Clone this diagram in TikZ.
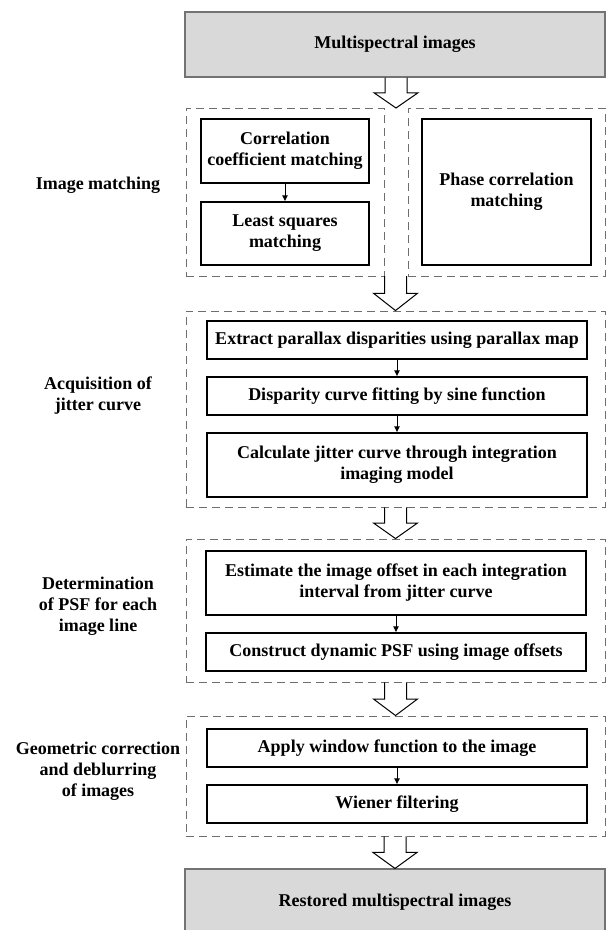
\documentclass[tikz,border=0pt]{standalone}
\usepackage{fontspec}
\setmainfont{Liberation Serif}
\usepackage{tikz}
\usetikzlibrary{arrows.meta,calc}
\definecolor{boxgray}{RGB}{217,217,217}
\definecolor{dashgray}{RGB}{110,110,110}
\tikzset{
  stepbox/.style={draw=black,line width=1.1pt,align=center,inner sep=0pt},
  endbox/.style={draw=gray!90!black,fill=boxgray,line width=1.1pt,align=center,inner sep=0pt},
  groupbox/.style={draw=dashgray,line width=0.9pt,dash pattern=on 8pt off 5pt,inner sep=0pt},
  sidelabel/.style={align=center,inner sep=0pt},
  smallarrow/.style={line width=1pt,-{Latex[length=6pt,width=6pt]}},
  fatarrowline/.style={line width=1pt,draw=black,line join=miter},
}
% hollow arrow from the bottom of one block to the top of the next
\newcommand{\fatarrow}[2]{%
  \path (#1) coordinate (fa-s) (#2) coordinate (fa-t);
  \draw[fatarrowline] let \p1=(fa-s), \p2=(fa-t) in
    (\x2-11pt,\y1) -- (\x2-11pt,{(\y1+\y2)/2}) -- (\x2-22pt,{(\y1+\y2)/2}) -- (\x2,\y2)
    -- (\x2+22pt,{(\y1+\y2)/2}) -- (\x2+11pt,{(\y1+\y2)/2}) -- (\x2+11pt,\y1);
}

\begin{document}
\begin{tikzpicture}[x=1pt,y=-1pt,font=\bfseries\fontsize{18}{21}\selectfont]
        \useasboundingbox (0,0) rectangle (606,930);
        \node (top) at (395,44.5) [endbox,minimum width=420,minimum height=65] {Multispectral images};
        % image matching
        \node (grpA) at (285,192) [groupbox,minimum width=198,minimum height=168] {};
        \node (grpB) at (506.5,192) [groupbox,minimum width=197,minimum height=168] {};
        \coordinate (gapA) at (396,108);
        \coordinate (gapB) at (396,276);
        \node (corr) at (285,151) [stepbox,minimum width=168,minimum height=64] {Correlation\\coefficient matching};
        \node (lsq) at (285,233.5) [stepbox,minimum width=168,minimum height=63] {Least squares\\matching};
        \node (phase) at (506.5,192) [stepbox,minimum width=169,minimum height=146] {Phase correlation\\matching};
        \node (labA) at (98,185) [sidelabel] {Image matching};
        % jitter curve
        \node (grpC) at (395.5,409) [groupbox,minimum width=419,minimum height=196] {};
        \node (ext) at (397,340) [stepbox,minimum width=380,minimum height=38] {Extract parallax disparities using parallax map};
        \node (disp) at (397,396) [stepbox,minimum width=380,minimum height=38] {Disparity curve fitting by sine function};
        \node (calc) at (397,465) [stepbox,minimum width=380,minimum height=64] {Calculate jitter curve through integration\\imaging model};
        \node (labC) at (98,396) [sidelabel] {Acquisition of\\jitter curve};
        % PSF
        \node (grpD) at (395.5,610.5) [groupbox,minimum width=419,minimum height=143] {};
        \node (est) at (396,583) [stepbox,minimum width=380,minimum height=64] {Estimate the image offset in each integration\\interval from jitter curve};
        \node (cons) at (396,652) [stepbox,minimum width=380,minimum height=38] {Construct dynamic PSF using image offsets};
        \node (labD) at (98,606) [sidelabel] {Determination\\of PSF for each\\image line};
        % deblurring
        \node (grpE) at (395.5,776) [groupbox,minimum width=419,minimum height=120] {};
        \node (win) at (397,748) [stepbox,minimum width=380,minimum height=38] {Apply window function to the image};
        \node (wien) at (397,804) [stepbox,minimum width=380,minimum height=38] {Wiener filtering};
        \node (labE) at (98,771) [sidelabel] {Geometric correction\\and deblurring\\of images};
        \node (bottom) at (395,902) [endbox,minimum width=420,minimum height=66] {Restored multispectral images};
        % connectors
        \draw [smallarrow] (corr)--(lsq);
        \draw [smallarrow] (ext)--(disp);
        \draw [smallarrow] (disp)--(calc);
        \draw [smallarrow] (est)--(cons);
        \draw [smallarrow] (win)--(wien);
        \fatarrow{top.south}{gapA}
        \fatarrow{gapB}{grpC.north}
        \fatarrow{grpC.south}{grpD.north}
        \fatarrow{grpD.south}{grpE.north}
        \fatarrow{grpE.south}{bottom.north}
      \end{tikzpicture}
\end{document}
